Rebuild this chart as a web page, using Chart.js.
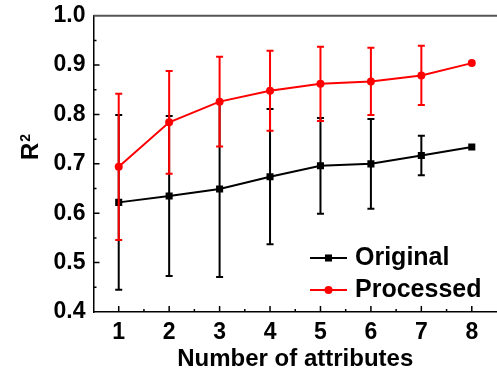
<!DOCTYPE html>
<html>
<head>
<meta charset="utf-8">
<script src="https://cdn.jsdelivr.net/npm/chart.js@4"></script>
<style>
  body { margin: 0; background: #fff; }
  #wrap { width: 497px; height: 374px; }
</style>
</head>
<body>
<div id="wrap"><canvas id="r2Chart"></canvas></div>
<script>
const ctx = document.getElementById('r2Chart').getContext('2d');

// number of attributes (x axis)
const attributes = [1, 2, 3, 4, 5, 6, 7, 8];

// mean R2 and error (+/-) per series
const originalR2 = [0.622, 0.635, 0.649, 0.674, 0.696, 0.700, 0.717, 0.734];
const originalErr = [0.177, 0.162, 0.178, 0.137, 0.097, 0.091, 0.040, 0];
const processedR2 = [0.694, 0.784, 0.826, 0.848, 0.862, 0.867, 0.879, 0.904];
const processedErr = [0.148, 0.104, 0.091, 0.081, 0.075, 0.068, 0.060, 0];

const yTicks = [0.4, 0.5, 0.6, 0.7, 0.8, 0.9, 1.0];

const FONT = '"Liberation Sans", Arial, sans-serif';
Chart.defaults.font.family = FONT;
Chart.defaults.color = '#000';

function toPoints(vals) {
    return attributes.map((x, i) => ({ x: x, y: vals[i] }));
}

// error bars, drawn just before each dataset so layering follows dataset order
const errorBars = {
    id: 'errorBars',
    beforeDatasetDraw(chart, args) {
        const ds = chart.data.datasets[args.index];
        const ys = chart.scales.y;
        const c = chart.ctx;
        c.save();
        c.strokeStyle = ds.borderColor;
        c.lineWidth = 2;
        args.meta.data.forEach((pt, i) => {
            const e = ds.errors[i];
            if (!e) return;
            const v = ds.data[i].y;
            const top = ys.getPixelForValue(v + e);
            const bot = ys.getPixelForValue(v - e);
            c.beginPath();
            c.moveTo(pt.x, top); c.lineTo(pt.x, bot);
            c.moveTo(pt.x - 3.5, top); c.lineTo(pt.x + 3.5, top);
            c.moveTo(pt.x - 3.5, bot); c.lineTo(pt.x + 3.5, bot);
            c.stroke();
        });
        c.restore();
    }
};

// inward ticks, top frame line, y title, legend box
const axisDecor = {
    id: 'axisDecor',
    afterDraw(chart) {
        const c = chart.ctx;
        const a = chart.chartArea;
        const xs = chart.scales.x, ys = chart.scales.y;
        c.save();
        c.strokeStyle = '#555';
        c.lineWidth = 2;
        c.beginPath();
        c.moveTo(a.left, a.top); c.lineTo(a.right, a.top);
        c.stroke();
        c.strokeStyle = '#000';
        c.lineWidth = 1.5;
        c.beginPath();
        // x ticks, major on integers, minor halfway
        attributes.forEach(v => {
            const px = xs.getPixelForValue(v);
            c.moveTo(px, a.bottom); c.lineTo(px, a.bottom - 6);
            if (v < 8) {
                const mx = xs.getPixelForValue(v + 0.5);
                c.moveTo(mx, a.bottom); c.lineTo(mx, a.bottom - 3);
            }
        });
        // y ticks every 0.05
        for (let k = 1; k < 12; k++) {
            const py = ys.getPixelForValue(0.4 + k * 0.05);
            const len = k % 2 === 0 ? 6 : 3;
            c.moveTo(a.left, py); c.lineTo(a.left + len, py);
        }
        c.stroke();
        c.restore();

        // y axis title R^2
        c.save();
        c.fillStyle = '#000';
        c.translate(38, 160);
        c.rotate(-Math.PI / 2);
        c.textBaseline = 'alphabetic';
        c.font = 'bold 24px ' + FONT;
        c.fillText('R', 0, 0);
        const w = c.measureText('R').width;
        c.font = 'bold 14px ' + FONT;
        c.fillText('2', w + 1, -8);
        c.restore();

        // legend
        c.save();
        const rows = chart.data.datasets.slice().sort((p, q) => q.order - p.order);
        let ly = 258;
        rows.forEach(ds => {
            c.strokeStyle = ds.borderColor;
            c.fillStyle = ds.borderColor;
            c.lineWidth = 2;
            c.beginPath();
            c.moveTo(310, ly); c.lineTo(347, ly);
            c.stroke();
            Chart.helpers.drawPoint(c, { pointStyle: ds.pointStyle, radius: ds.pointRadius, borderWidth: 0, rotation: 0 }, 328.5, ly);
            c.fillStyle = '#000';
            c.font = 'bold 25px ' + FONT;
            c.textBaseline = 'middle';
            c.fillText(ds.label, 355, ly);
            ly += 32;
        });
        c.restore();
    }
};

new Chart(ctx, {
    type: 'line',
    data: {
        datasets: [
            {
                label: 'Original',
                data: toPoints(originalR2),
                errors: originalErr,
                borderColor: '#000',
                backgroundColor: '#000',
                borderWidth: 2,
                pointStyle: 'rect',
                pointRadius: 5,
                pointBorderWidth: 0,
                fill: false,
                order: 2
            },
            {
                label: 'Processed',
                data: toPoints(processedR2),
                errors: processedErr,
                borderColor: '#ff0000',
                backgroundColor: '#ff0000',
                borderWidth: 2,
                pointStyle: 'circle',
                pointRadius: 4,
                pointBorderWidth: 0,
                fill: false,
                order: 1
            }
        ]
    },
    options: {
        responsive: true,
        maintainAspectRatio: false,
        animation: false,
        layout: { autoPadding: false, padding: { top: 15.7, left: 0, right: 0, bottom: 0 } },
        plugins: {
            legend: { display: false },
            tooltip: { enabled: false }
        },
        scales: {
            x: {
                type: 'linear',
                min: 0.5,
                max: 8.5,
                afterBuildTicks: s => { s.ticks = attributes.map(v => ({ value: v })); },
                afterFit: s => { s.height = 62; s.paddingLeft = 0; s.paddingRight = 0; },
                grid: { display: false, drawTicks: false },
                border: { display: true, color: '#000', width: 1.5 },
                ticks: {
                    padding: 7,
                    maxRotation: 0,
                    font: { size: 23, weight: 'bold' },
                    callback: v => String(v)
                },
                title: {
                    display: true,
                    text: 'Number of attributes',
                    font: { size: 24, weight: 'bold' },
                    padding: { top: 0, bottom: 0 }
                }
            },
            y: {
                min: 0.4,
                max: 1.0,
                afterBuildTicks: s => { s.ticks = yTicks.map(v => ({ value: v })); },
                afterFit: s => { s.width = 93.5; s.paddingTop = 0; s.paddingBottom = 0; },
                grid: { display: false, drawTicks: false },
                border: { display: true, color: '#000', width: 1.5 },
                ticks: {
                    padding: 8,
                    font: { size: 23, weight: 'bold' },
                    callback: v => v.toFixed(1)
                }
            }
        }
    },
    plugins: [errorBars, axisDecor]
});
</script>
</body>
</html>
